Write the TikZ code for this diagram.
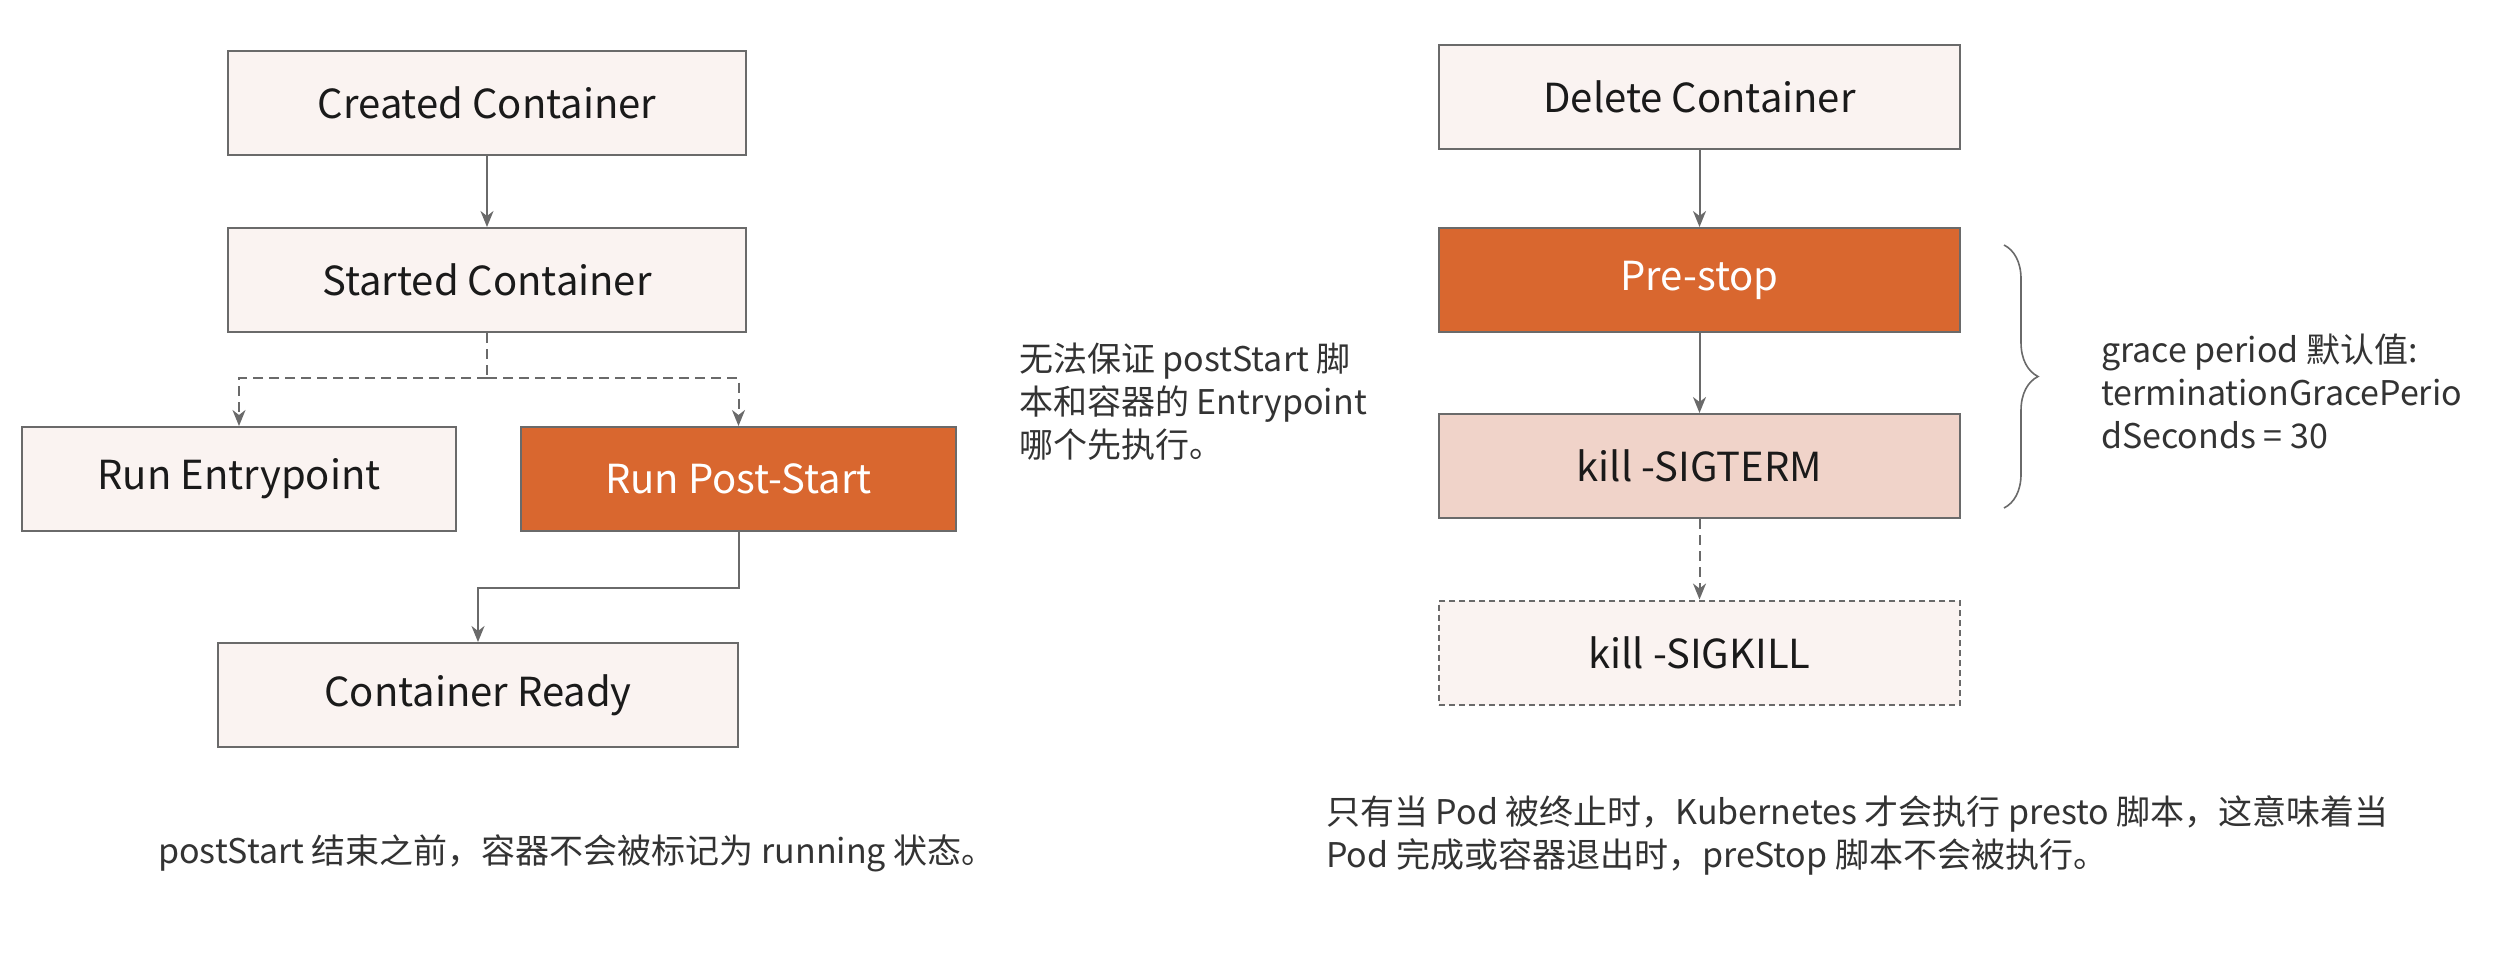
\documentclass[tikz,border=0pt]{standalone}
\usepackage{fontspec}
\setmainfont{Noto Sans CJK SC}
\usetikzlibrary{arrows.meta,decorations.pathreplacing}
\definecolor{boxfill}{HTML}{FAF3F1}
\definecolor{orangefill}{HTML}{D9672F}
\definecolor{pinkfill}{HTML}{F0D3C9}
\definecolor{linegray}{HTML}{6A6A6A}
\definecolor{txtdark}{HTML}{1A1A1A}
\definecolor{annot}{HTML}{333333}
\tikzset{
  box/.style={draw=linegray, line width=2pt, fill=boxfill, minimum height=104pt, inner sep=0pt,
    text=txtdark, font=\fontsize{40}{48}\selectfont},
  hot/.style={box, fill=orangefill, text=white},
  warm/.style={box, fill=pinkfill},
  ghost/.style={box, dash pattern=on 6pt off 4pt},
  conn/.style={draw=linegray, line width=2pt, -{Stealth[length=16pt,width=13pt,inset=5pt]}},
  dconn/.style={conn, dash pattern=on 10pt off 6pt},
  note/.style={text=annot, font=\fontsize{34}{43}\selectfont, align=left, inner sep=0pt, anchor=west}
}
\begin{document}
\begin{tikzpicture}[x=1pt,y=1pt]
\useasboundingbox (0,0) rectangle (2520,-956);
% left column
\node[box, minimum width=518pt] (created) at (487,-103) {Created Container};
\node[box, minimum width=518pt] (started) at (487,-280) {Started Container};
\node[box, minimum width=434pt] (entry) at (239,-479) {Run Entrypoint};
\node[hot, minimum width=435pt] (post) at (738.5,-479) {Run Post-Start};
\node[box, minimum width=520pt] (ready) at (478,-695) {Container Ready};
\coordinate (split) at (487,-378);
\draw[conn] (created) -- (started);
\draw[linegray, line width=2pt, dash pattern=on 10pt off 6pt] (started.south) -- (split);
\draw[dconn] (split) -| (entry.north);
\draw[dconn] (split) -| (post.north);
\draw[conn] (post.south) -- ++(0,-56) -| (ready.north);
\node[note] (capL) at (158,-853) {postStart 结束之前，容器不会被标记为 running 状态。};
% middle note
\node[note] (mid) at (1019,-402) {无法保证 postStart 脚\\本和容器的 Entrypoint\\哪个先执行。};
% right column
\node[box, minimum width=521pt] (delete) at (1699.5,-97) {Delete Container};
\node[hot, minimum width=521pt] (prestop) at (1699.5,-280) {Pre-stop};
\node[warm, minimum width=521pt] (sigterm) at (1699.5,-466) {kill -SIGTERM};
\node[ghost, minimum width=521pt] (sigkill) at (1699.5,-652.5) {kill -SIGKILL};
\draw[conn] (delete) -- (prestop);
\draw[conn] (prestop) -- (sigterm);
\draw[dconn] (sigterm) -- (sigkill);
\coordinate (braceTop) at (2004,-245);
\coordinate (braceBot) at (2004,-508);
\draw[linegray, line width=1.6pt, decorate, decoration={brace, amplitude=34pt}] (braceTop) -- (braceBot);
\node[note] (grace) at (2101,-391) {grace period 默认值:\\terminationGracePerio\\dSeconds = 30};
\node[note] (capR) at (1326,-835) {只有当 Pod 被终止时，Kubernetes 才会执行 presto 脚本，这意味着当\\Pod 完成或容器退出时，preStop 脚本不会被执行。};
\end{tikzpicture}
\end{document}
